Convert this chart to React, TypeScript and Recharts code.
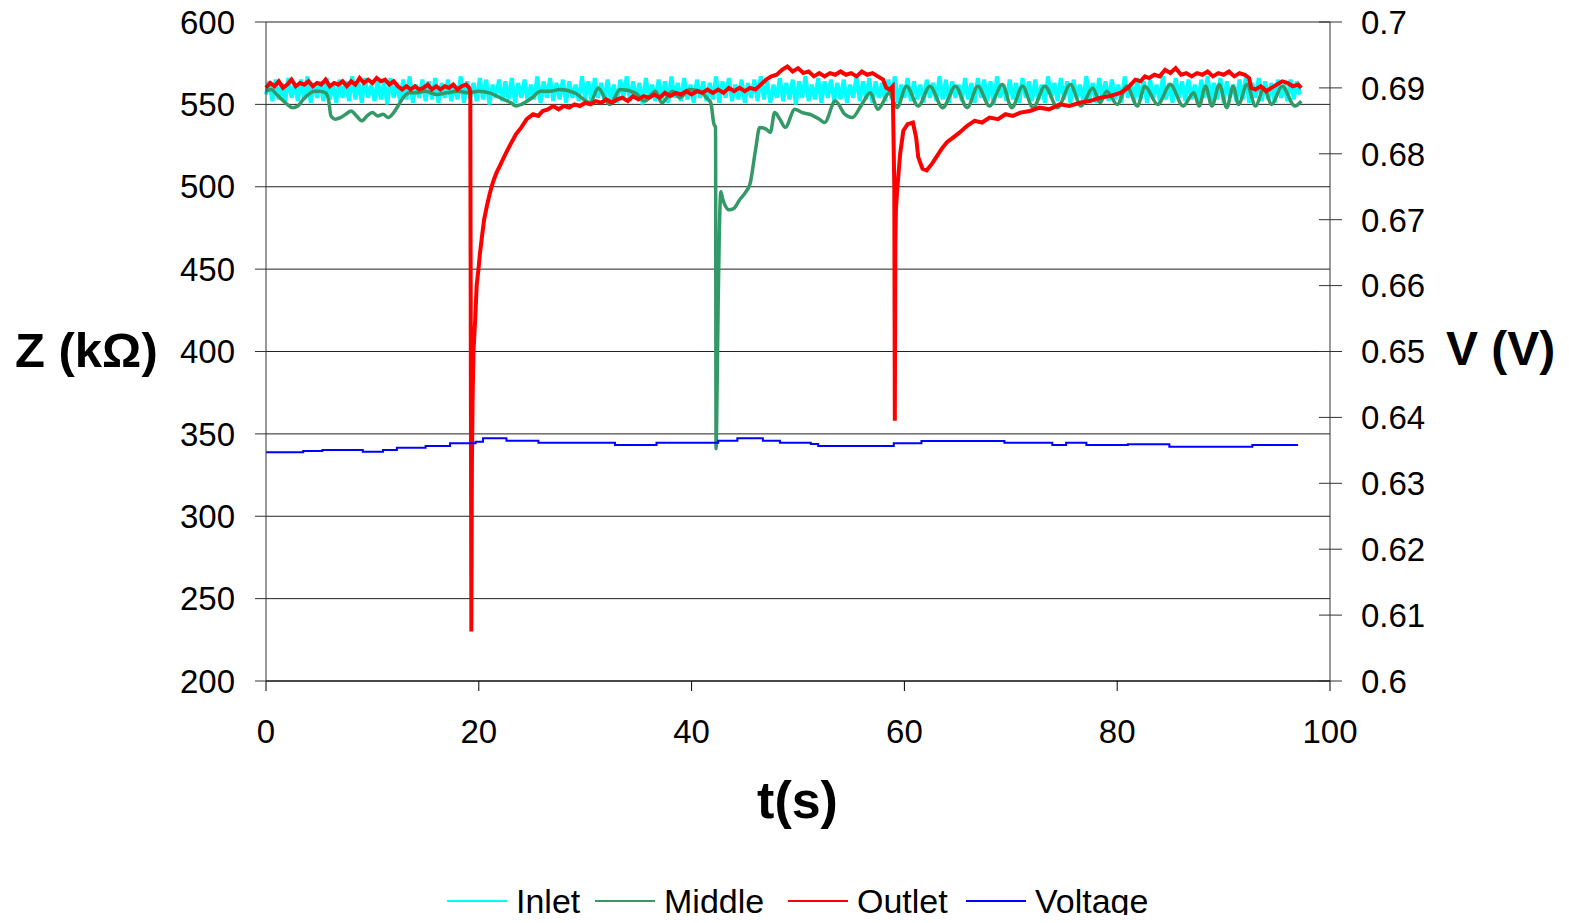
import React from "react";
import { LineChart, Line, XAxis, YAxis, CartesianGrid } from "recharts";

const FONT = '"Liberation Sans", Arial, Helvetica, sans-serif';

// Inlet impedance (kOhm), sampled every 0.3 s from t = 0
const INLET_STEP = 0.3;
const inletZ = [
  556, 564, 552, 565, 553, 563, 551, 566, 554, 562,
  552, 565, 553, 567, 551, 563, 554, 564, 552, 566,
  553, 562, 551, 565, 554, 564, 552, 567, 553, 563,
  551, 566, 554, 562, 552, 565, 553, 564, 550, 566,
  554, 563, 552, 565, 553, 567, 551, 562, 554, 565,
  552, 564, 553, 566, 551, 563, 554, 565, 552, 562,
  553, 567, 551, 564, 554, 563, 552, 566, 553, 565,
  550, 562, 554, 565, 552, 564, 553, 566, 551, 563,
  554, 565, 552, 562, 553, 567, 551, 564, 554, 566,
  552, 563, 553, 565, 551, 564, 554, 562, 552, 567,
  553, 564, 551, 566, 554, 563, 552, 565, 553, 562,
  551, 565, 554, 567, 552, 564, 553, 563, 550, 566,
  554, 562, 552, 565, 553, 564, 551, 567, 554, 563,
  552, 566, 553, 562, 551, 565, 554, 564, 552, 563,
  553, 567, 551, 564, 554, 566, 552, 562, 553, 565,
  551, 563, 554, 565, 552, 567, 553, 564, 551, 562,
  554, 566, 552, 563, 553, 565, 550, 564, 554, 567,
  552, 562, 553, 566, 551, 564, 554, 565, 552, 563,
  553, 565, 551, 562, 554, 567, 552, 564, 553, 566,
  551, 564, 554, 563, 552, 565, 553, 567, 551, 562,
  554, 566, 552, 564, 553, 562, 551, 565, 554, 563,
  552, 567, 553, 565, 551, 564, 554, 562, 552, 566,
  553, 563, 551, 566, 554, 565, 552, 564, 550, 567,
  554, 562, 552, 565, 553, 563, 551, 566, 554, 564,
  552, 565, 553, 562, 551, 567, 554, 563, 552, 566,
  553, 564, 551, 565, 554, 562, 552, 567, 553, 563,
  551, 566, 554, 564, 552, 565, 553, 562, 551, 567,
  554, 563, 552, 566, 553, 564, 551, 565, 554, 562,
  552, 567, 553, 563, 551, 566, 554, 564, 552, 565,
  553, 562, 551, 565, 554, 567, 552, 563, 553, 566,
  551, 564, 554, 562, 552, 565, 553, 567, 551, 563,
  554, 566, 552, 564, 553, 563, 551, 565, 554, 562,
  552, 565, 553, 564, 556,
];

// [t (s), Z (kOhm)]
const middle: [number, number][] = [
  [0, 558], [0.5, 559], [1, 556], [1.5, 553], [2, 550], [2.5, 548], [3, 549], [3.5, 553],
  [4, 556], [4.5, 558], [5, 558], [5.6, 557], [5.9, 552], [6.1, 543], [6.5, 541], [7, 542],
  [7.5, 544], [8, 546], [8.5, 543], [9, 540], [9.5, 543], [10, 545], [10.5, 543], [11, 544],
  [11.5, 542], [12, 545], [12.5, 550], [13, 555], [13.5, 557], [14, 557], [15, 558], [16, 556],
  [17, 557], [18, 558], [19, 557], [20, 558], [21, 557], [22, 554], [23, 551], [23.5, 549],
  [24, 550], [25, 554], [25.8, 558], [26.7, 558], [27.6, 559], [29, 557], [30.5, 551], [31.2, 560],
  [32.3, 550], [33.3, 559], [34.7, 557], [35.6, 552], [36.6, 558], [37.2, 551], [38.2, 558], [38.9, 554],
  [39.8, 559], [40.8, 558], [41.4, 554], [41.8, 551], [42.1, 538], [42.25, 536], [42.3, 341], [42.4, 380],
  [42.5, 430], [42.6, 470], [42.75, 497], [42.9, 493], [43.2, 488], [43.5, 486], [44, 487], [44.5, 492],
  [45, 496], [45.5, 502], [46, 522], [46.4, 536], [47, 535], [47.4, 533], [47.8, 545], [48.3, 541],
  [48.8, 536], [49.7, 547], [50.4, 545], [51.1, 544], [52, 541], [52.5, 539], [53.5, 552], [54.4, 544],
  [55.1, 542], [56, 550], [56.8, 557], [57.5, 547], [58.6, 557], [59.3, 548], [60.2, 561], [61.3, 549],
  [62.4, 561], [63.6, 548], [64.8, 561], [65.9, 548], [66.9, 561], [68, 549], [69.2, 562], [70.1, 548],
  [71.1, 561], [72.1, 548], [73.2, 561], [74.4, 548], [75.6, 562], [76.6, 549], [77.7, 560], [78.4, 551],
  [79, 558], [80, 550], [80.9, 561], [81.9, 549], [82.6, 561], [83.8, 550], [85, 562], [86.2, 549],
  [87.2, 557], [87.7, 549], [88.3, 561], [88.9, 549], [89.6, 562], [90.3, 548], [90.9, 561], [91.4, 550],
  [92.2, 562], [93, 549], [93.8, 560], [94.5, 550], [95.5, 561], [96.7, 549], [97.3, 552],
];

// [t (s), Z (kOhm)]
const outlet: [number, number][] = [
  [0, 560], [0.4, 563], [0.8, 561], [1.2, 564], [1.6, 560], [2, 562], [2.4, 565], [2.8, 561],
  [3.2, 563], [3.6, 562], [4, 564], [4.4, 561], [4.8, 563], [5.2, 562], [5.6, 565], [6, 561],
  [6.4, 563], [6.8, 562], [7.2, 564], [7.6, 561], [8, 564], [8.4, 562], [8.8, 566], [9.2, 563],
  [9.6, 565], [10, 563], [10.4, 566], [10.8, 564], [11.2, 565], [11.6, 562], [12, 564], [12.4, 561],
  [12.8, 559], [13.2, 561], [13.6, 559], [14, 561], [14.4, 559], [14.8, 560], [15.2, 562], [15.6, 559],
  [16, 561], [16.4, 559], [16.8, 561], [17.2, 560], [17.6, 562], [18, 559], [18.4, 561], [18.8, 562],
  [19.1, 560], [19.2, 558], [19.3, 230], [19.35, 330], [19.42, 372], [19.5, 400], [19.65, 418], [19.8, 440],
  [20, 452], [20.1, 459], [20.3, 470], [20.5, 480], [20.75, 488], [21, 495], [21.2, 500], [21.45, 505],
  [21.7, 509], [22, 513], [22.3, 517], [22.6, 521], [23, 526], [23.5, 532], [24, 536], [24.5, 541],
  [25.1, 544], [25.6, 543], [26, 546], [26.5, 547], [27, 549], [27.5, 547], [28, 549], [28.5, 548],
  [29, 550], [29.5, 549], [30, 551], [30.5, 550], [31, 552], [31.5, 551], [32, 553], [32.5, 551],
  [33, 553], [33.5, 554], [34, 552], [34.5, 555], [35, 553], [35.5, 555], [36, 554], [36.5, 556],
  [37, 554], [37.5, 557], [38, 555], [38.5, 557], [39, 556], [39.5, 558], [40, 556], [40.5, 558],
  [41, 557], [41.5, 559], [42, 557], [42.5, 559], [43, 557], [43.5, 560], [44, 558], [44.5, 560],
  [45, 558], [45.5, 560], [46, 559], [46.5, 562], [47, 565], [47.5, 567], [48, 568], [48.5, 571],
  [49, 573], [49.5, 570], [50, 572], [50.5, 569], [51, 570], [51.5, 567], [52, 569], [52.5, 567],
  [53, 569], [53.5, 568], [54, 570], [54.5, 568], [55, 569], [55.5, 567], [56, 570], [56.5, 568],
  [57, 569], [57.5, 567], [58, 565], [58.3, 560], [58.6, 559], [58.9, 561], [59.05, 500], [59.1, 358],
  [59.15, 465], [59.2, 486], [59.3, 496], [59.6, 520], [59.9, 534], [60.3, 538], [60.8, 539], [61.1, 530],
  [61.3, 518], [61.7, 511], [62.1, 510], [62.6, 514], [63, 518], [63.5, 523], [64, 527], [64.6, 530],
  [65.2, 533], [65.9, 537], [66.6, 540], [67.3, 539], [68, 542], [68.8, 541], [69.5, 544], [70.2, 543],
  [70.9, 545], [71.8, 546], [72.7, 548], [73.6, 547], [74.6, 550], [75.5, 549], [76.5, 551], [77.4, 552],
  [78.4, 554], [79.3, 555], [80.3, 557], [81, 560], [81.7, 565], [82.2, 564], [82.6, 567], [83, 566],
  [83.5, 568], [84, 567], [84.5, 571], [85, 569], [85.5, 572], [86, 568], [86.5, 569], [87, 567],
  [87.5, 569], [88, 568], [88.5, 570], [89, 567], [89.5, 569], [90, 568], [90.5, 570], [91, 567],
  [91.5, 569], [92, 568], [92.4, 566], [92.6, 560], [93, 559], [93.5, 561], [94, 558], [94.5, 560],
  [95, 562], [95.5, 564], [96, 563], [96.5, 561], [97, 562], [97.3, 560],
];

// [t (s), V (V)], stepped
const voltage: [number, number][] = [
  [0, 0.6347], [3.5, 0.6349], [5.3, 0.63505], [9.1, 0.6348], [11, 0.63505], [12.3, 0.6354],
  [15, 0.63566], [17.3, 0.63607], [19.7, 0.63631], [20.4, 0.63683], [22.6, 0.63646], [25.6, 0.63616],
  [32.8, 0.63581], [36.7, 0.63616], [42.5, 0.63646], [44.3, 0.63683], [46.7, 0.63646], [48.3, 0.63616],
  [51.2, 0.63595], [51.9, 0.63566], [59, 0.63607], [61.6, 0.63642], [69.4, 0.63616], [73.9, 0.63581],
  [75.2, 0.63616], [77.1, 0.63581], [81, 0.63592], [84.9, 0.63556], [92.7, 0.63581], [97, 0.63581],
];

const zTicks = [200, 250, 300, 350, 400, 450, 500, 550, 600];
const vTicks = [0.6, 0.61, 0.62, 0.63, 0.64, 0.65, 0.66, 0.67, 0.68, 0.69, 0.7];
const tTicks = [0, 20, 40, 60, 80, 100];

const series = [
  { name: "Inlet", color: "#00FFFF" },
  { name: "Middle", color: "#339966" },
  { name: "Outlet", color: "#FF0000" },
  { name: "Voltage", color: "#0000FF" },
];

const inletData = inletZ.map((z, i) => ({ t: Number((i * INLET_STEP).toFixed(2)), z }));
const toRows = (pts: [number, number][]) => pts.map(([t, z]) => ({ t, z }));
const middleData = toRows(middle);
const outletData = toRows(outlet);
const voltageData = voltage.map(([t, v]) => ({ t, v }));

// container sits at page y = 0 (negative margin cancels body margin)
const W = 1553;
const H = 915;
const tickStyle = { fontSize: 33, fill: "#000", fontFamily: FONT };

const RightTick = (props: any) => {
  const { x, y, payload } = props;
  const axisX = x - 12 - 19;
  return (
    <g>
      <line x1={axisX - 11} x2={axisX} y1={y} y2={y} stroke="#333" />
      <text x={x} y={y} dy="0.36em" textAnchor="start" fontSize={33} fontFamily={FONT} fill="#000">
        {String(Number(Number(payload.value).toFixed(2)))}
      </text>
    </g>
  );
};

const legendX = [439, 587, 780, 958];

export default function App() {
  return (
    <div style={{ position: "relative", width: W, height: H, marginTop: -8, background: "#fff" }}>
      <LineChart width={W} height={768} margin={{ top: 22, right: 0, bottom: 0, left: 0 }}>
        <CartesianGrid yAxisId="left" vertical={false} stroke="#222" strokeWidth={1} />
        <XAxis
          type="number"
          dataKey="t"
          domain={[0, 100]}
          ticks={tTicks}
          height={87}
          tickSize={10}
          tickMargin={29}
          tick={tickStyle}
          stroke="#000"
          allowDuplicatedCategory={false}
        />
        <YAxis
          yAxisId="left"
          orientation="left"
          domain={[200, 600]}
          ticks={zTicks}
          width={258}
          tickSize={11}
          tickMargin={20}
          tick={tickStyle}
          stroke="#333"
        />
        <YAxis
          yAxisId="right"
          orientation="right"
          domain={[0.6, 0.7]}
          ticks={vTicks}
          width={231}
          tickSize={12}
          tickMargin={19}
          tick={<RightTick />}
          stroke="#333"
        />
        <Line yAxisId="left" data={inletData} dataKey="z" name="Inlet" stroke={series[0].color} strokeWidth={4} dot={false} isAnimationActive={false} />
        <Line yAxisId="left" type="monotone" data={middleData} dataKey="z" name="Middle" stroke={series[1].color} strokeWidth={3.5} dot={false} isAnimationActive={false} />
        <Line yAxisId="left" data={outletData} dataKey="z" name="Outlet" stroke={series[2].color} strokeWidth={4} dot={false} isAnimationActive={false} />
        <Line yAxisId="right" type="stepAfter" data={voltageData} dataKey="v" name="Voltage" stroke={series[3].color} strokeWidth={2} dot={false} isAnimationActive={false} />
      </LineChart>
      <svg width={W} height={923} style={{ position: "absolute", left: 0, top: 0, pointerEvents: "none" }}>
        <text x={7} y={367} fontSize={49} fontWeight="bold" fontFamily={FONT} fill="#000">Z (kΩ)</text>
        <text x={1438} y={365} fontSize={48} fontWeight="bold" fontFamily={FONT} fill="#000">V (V)</text>
        <text x={789.5} y={818} fontSize={52} fontWeight="bold" fontFamily={FONT} fill="#000" textAnchor="middle">t(s)</text>
        {series.map((s, i) => (
          <g key={s.name}>
            <line x1={legendX[i]} x2={legendX[i] + 60} y1={901} y2={901} stroke={s.color} strokeWidth={2} />
            <text x={legendX[i] + 69} y={913} fontSize={34} fontFamily={FONT} fill="#000">{s.name}</text>
          </g>
        ))}
      </svg>
    </div>
  );
}
